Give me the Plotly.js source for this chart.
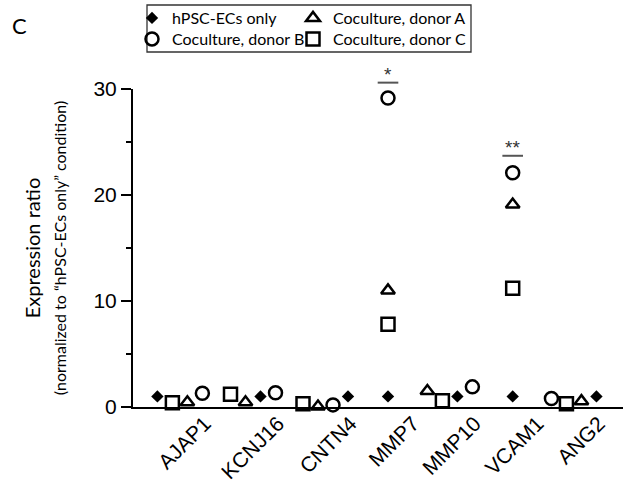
<!DOCTYPE html>
<html>
<head>
<meta charset="utf-8">
<script src="https://cdn.plot.ly/plotly-3.0.1.min.js"></script>
<style>
  html, body { margin: 0; padding: 0; background: #ffffff; }
  #chart { width: 623px; height: 490px; }
</style>
</head>
<body>
<div id="chart"></div>
<script>
// ---- Data ----
const categories = ['AJAP1', 'KCNJ16', 'CNTN4', 'MMP7', 'MMP10', 'VCAM1', 'ANG2'];
const catPos = [0.75, 1.92, 3.08, 4.08, 5.07, 6.075, 7.055];

const hpscOnly = [1, 1, 1, 1, 1, 1, 1];
const donorA   = [0.45, 0.45, 0.05, 11.0, 1.5, 19.1, 0.55];
const donorB   = [1.3, 1.35, 0.2, 29.15, 1.9, 22.1, 0.8];
const donorC   = [0.4, 1.2, 0.3, 7.8, 0.6, 11.2, 0.3];

// horizontal jitter of each series around its category (category units)
const jitterHpsc = [-0.36, 0.12, 0.36, 0, 0.12, 0, 0.36];
const jitterA    = [0.12, -0.12, -0.12, 0, -0.36, 0, 0.12];
const jitterB    = [0.36, 0.36, 0.12, 0, 0.36, 0, -0.36];
const jitterC    = [-0.12, -0.36, -0.36, 0, -0.12, 0, -0.12];

const seriesNames = ['hPSC-ECs only', 'Coculture, donor A', 'Coculture, donor B', 'Coculture, donor C'];

// significance marks
const sigCategories = ['MMP7', 'VCAM1'];
const sigLabels = ['*', '**'];
const sigLevel = [30.6, 23.7];

const yTicks = [0, 10, 20, 30];
const yMinorTicks = [5, 15, 25];
const yMax = 30;

// ---- Styling ----
const tickFont = 'Liberation Sans, Arial, sans-serif';
const textFont = 'Lato, Liberation Sans, sans-serif';

function xs(jit) { return catPos.map((p, i) => p + jit[i]); }

const openLine = { width: 2.5, color: '#000' };
const traces = [
  { name: seriesNames[0], x: xs(jitterHpsc), y: hpscOnly, legend: 'legend',
    marker: { symbol: 'diamond', size: 9.5, color: '#000' } },
  { name: seriesNames[1], x: xs(jitterA), y: donorA, legend: 'legend2',
    marker: { symbol: 'triangle-up-open', size: 12, color: '#000', line: openLine } },
  { name: seriesNames[2], x: xs(jitterB), y: donorB, legend: 'legend3',
    marker: { symbol: 'circle-open', size: 13, color: '#000', line: openLine } },
  { name: seriesNames[3], x: xs(jitterC), y: donorC, legend: 'legend4',
    marker: { symbol: 'square-open', size: 13, color: '#000', line: openLine } }
].map(t => Object.assign({ type: 'scatter', mode: 'markers', cliponaxis: false, hoverinfo: 'x+y' }, t));

const sigShapes = sigCategories.map((c, i) => {
  const p = catPos[categories.indexOf(c)];
  return { type: 'line', xref: 'x', yref: 'paper', x0: p - 0.165, x1: p + 0.165,
           y0: sigLevel[i] / yMax, y1: sigLevel[i] / yMax,
           line: { color: '#555', width: 2 } };
});
const sigAnn = sigCategories.map((c, i) => ({
  xref: 'x', yref: 'paper', x: catPos[categories.indexOf(c)], y: sigLevel[i] / yMax,
  text: sigLabels[i], showarrow: false, yanchor: 'bottom', yshift: -4,
  font: { family: tickFont, size: 19, color: '#333' }
}));

const legendBox = {
  type: 'rect', xref: 'paper', yref: 'paper',
  x0: (147 - 133) / 490, x1: (471 - 133) / 490,
  y0: (407 - 52) / 318, y1: (407 - 5) / 318,
  line: { color: '#333', width: 1.3 }, fillcolor: 'rgba(0,0,0,0)'
};

const legendCommon = {
  orientation: 'h', xref: 'container', yref: 'container',
  xanchor: 'left', yanchor: 'middle',
  bgcolor: 'rgba(0,0,0,0)', borderwidth: 0,
  font: { family: textFont, size: 16, color: '#000' },
  itemclick: false, itemdoubleclick: false
};
const col1 = 132 / 623, col2 = 293 / 623, row1 = 1 - 18 / 490, row2 = 1 - 39 / 490;

const layout = {
  width: 623, height: 490,
  margin: { l: 133, r: 0, t: 89, b: 83, pad: 0, autoexpand: false },
  paper_bgcolor: '#fff', plot_bgcolor: '#fff',
  showlegend: true,
  title: { text: 'C', x: 12 / 623, xanchor: 'left', y: 1 - 26 / 490, yanchor: 'middle',
           font: { family: textFont, size: 22, color: '#000' } },
  legend:  Object.assign({}, legendCommon, { x: col1, y: row1 }),
  legend2: Object.assign({}, legendCommon, { x: col2, y: row1 }),
  legend3: Object.assign({}, legendCommon, { x: col1, y: row2 }),
  legend4: Object.assign({}, legendCommon, { x: col2, y: row2 }),
  xaxis: {
    range: [0, 7.84], showgrid: false, zeroline: false,
    showline: true, linewidth: 2, linecolor: '#000',
    ticks: '', tickvals: catPos, ticktext: categories, tickangle: -45,
    ticklabelshift: 25, ticklabelstandoff: -6,
    tickfont: { family: tickFont, size: 21, color: '#000' }
  },
  yaxis: {
    range: [0, yMax], showgrid: false, zeroline: false,
    showline: true, linewidth: 2, linecolor: '#000',
    tickvals: yTicks, ticks: 'outside', ticklen: 10, tickwidth: 2, tickcolor: '#000',
    tickfont: { family: tickFont, size: 21, color: '#000' },
    minor: { tickvals: yMinorTicks, ticks: 'outside', ticklen: 5, tickwidth: 2, tickcolor: '#000' },
    title: {
      text: 'Expression ratio<br><span style="font-size:16px">(normalized to \u201chPSC-ECs only\u201d condition)</span>',
      font: { family: textFont, size: 20, color: '#000' }, standoff: 21
    }
  },
  shapes: [legendBox].concat(sigShapes),
  annotations: sigAnn
};

Plotly.newPlot('chart', traces, layout, { staticPlot: true, displayModeBar: false });
</script>
</body>
</html>
